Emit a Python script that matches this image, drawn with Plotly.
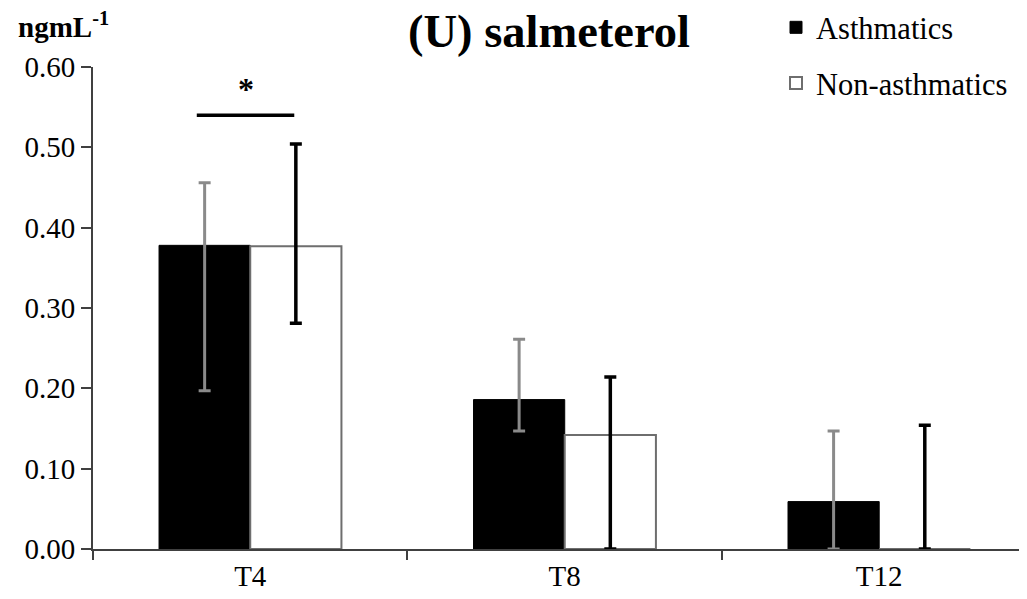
import plotly.graph_objects as go

categories = ["T4", "T8", "T12"]
asth_mean = [0.378, 0.186, 0.059]
asth_upper = [0.456, 0.261, 0.147]
asth_lower = [0.197, 0.147, 0.0]
non_mean = [0.377, 0.142, 0.0]
non_upper = [0.504, 0.214, 0.154]
non_lower = [0.281, 0.0, 0.0]
y_ticks = [0.0, 0.1, 0.2, 0.3, 0.4, 0.5, 0.6]

sig_x = [-0.17, 0.14]
sig_y = 0.54
star_y = 0.572

FONT = "Liberation Serif"

OFF = 8  # page body margin
W, H = 1027, 599
L, T = 93 - OFF, 67 - OFF
R = OFF
B = H - (549 - OFF)
PW, PH = W - L - R, H - T - B

def px_x(p):
    return (p - OFF - L) / PW

def px_y(p):
    return 1 - (p - OFF - T) / PH

fig = go.Figure()
fig.add_trace(go.Bar(
    name="Asthmatics", x=categories, y=asth_mean,
    marker=dict(color="black", line=dict(color="black", width=1)),
    error_y=dict(type="data", symmetric=False,
                 array=[u - m for u, m in zip(asth_upper, asth_mean)],
                 arrayminus=[m - l for m, l in zip(asth_mean, asth_lower)],
                 color="#8a8a8a", thickness=3, width=6),
    legendgroup="a",
))
fig.add_trace(go.Bar(
    name="Non-asthmatics", x=categories, y=non_mean,
    marker=dict(color="white", line=dict(color="#6e6e6e", width=2)),
    error_y=dict(type="data", symmetric=False,
                 array=[u - m for u, m in zip(non_upper, non_mean)],
                 arrayminus=[m - l for m, l in zip(non_mean, non_lower)],
                 color="black", thickness=3.5, width=6),
    legendgroup="b",
))

fig.add_shape(type="line", xref="x", yref="y", x0=sig_x[0], x1=sig_x[1],
              y0=sig_y, y1=sig_y, line=dict(color="black", width=3.5))
fig.add_annotation(x=(sig_x[0] + sig_x[1]) / 2, y=star_y, xref="x", yref="y",
                   text="<b>*</b>", showarrow=False,
                   font=dict(family=FONT, size=32, color="black"))
fig.add_annotation(x=px_x(16), y=px_y(25), xref="paper", yref="paper",
                   xanchor="left", yanchor="middle", showarrow=False,
                   text="<b>ngmL<sup>-1</sup></b>",
                   font=dict(family=FONT, size=29, color="black"))

fig.update_layout(
    width=W, height=H,
    margin=dict(l=L, r=R, t=T, b=B, autoexpand=False),
    paper_bgcolor="white", plot_bgcolor="white",
    barmode="group", bargap=0.42, bargroupgap=0,
    font=dict(family=FONT, size=29, color="black"),
    title=dict(text="<b>(U) salmeterol</b>", x=(549 - OFF) / W, xanchor="center",
               y=1 - (31 - OFF) / H, yanchor="middle",
               font=dict(family=FONT, size=46.5, color="black")),
    legend=dict(x=px_x(776), y=px_y(1), xanchor="left", yanchor="top",
                font=dict(family=FONT, size=30.5, color="black"),
                traceorder="grouped", tracegroupgap=13,
                bgcolor="rgba(0,0,0,0)", itemwidth=30),
    showlegend=True,
)
fig.update_xaxes(
    type="category", range=[-0.5, 2.47], tickson="boundaries",
    ticks="outside", ticklen=9, tickwidth=2, tickcolor="#404040",
    showline=True, linecolor="#404040", linewidth=2,
    showgrid=False, zeroline=False,
    tickfont=dict(family=FONT, size=29, color="black"),
)
fig.update_yaxes(
    range=[0, 0.6], tickvals=y_ticks, tickformat=".2f",
    ticks="outside", ticklen=10, tickwidth=2, tickcolor="#404040",
    showline=True, linecolor="#404040", linewidth=2,
    showgrid=False, zeroline=False,
    tickfont=dict(family=FONT, size=29, color="black"),
)

fig.write_html("out.html")
